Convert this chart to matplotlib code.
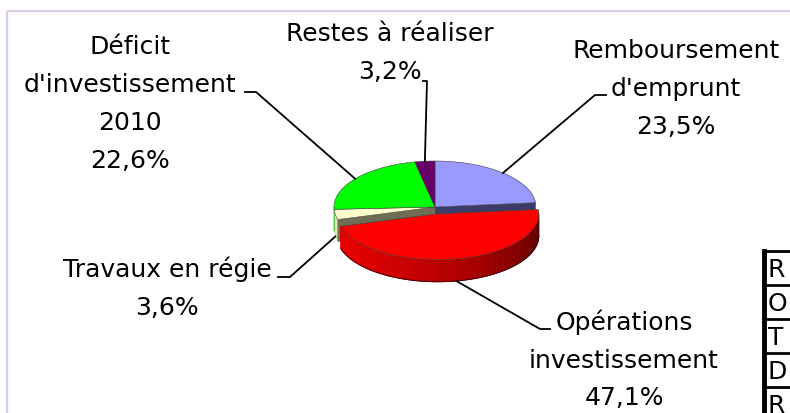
import numpy as np
import matplotlib.pyplot as plt
from matplotlib.patches import Polygon, Rectangle
from matplotlib.colors import to_rgb

# Données du camembert (ordre horaire depuis midi)
labels = ["Remboursement\nd'emprunt", "Opérations\ninvestissement", "Travaux en régie",
          "Déficit\nd'investissement\n2010", "Restes à réaliser"]
values = [23.5, 47.1, 3.6, 22.6, 3.2]
pct_labels = ["23,5%", "47,1%", "3,6%", "22,6%", "3,2%"]
explode = [0, 0.15, 0, 0, 0]
table_letters = ["R", "O", "T", "D", "R"]

top_colors = ["#9999ff", "#ff0000", "#ffffcc", "#00ff00", "#660066"]
side_colors = ["#5c5c9c", "#b00000", "#e2e2b2", "#00b000", "#400040"]
face_colors = ["#3c3c6a", "#700000", "#6e6e54", "#007000", "#330033"]

# mise en page (pixels)
cx, cy = 435, 208
a, b = 101, 46
depth = 22
text_pos = [(676, 89), (624, 360), (167, 288), (130, 104), (390, 53)]
knees = [[(606, 96), (595, 96)], [(550, 330), (540, 330)], [(278, 278), (290, 278)],
         [(245, 93), (256, 93)], [(423, 82), (427, 82)]]
anchor_on_side = [False, True, True, False, False]

fig = plt.figure(figsize=(7.9, 4.14), dpi=100)
ax = fig.add_axes([0, 0, 1, 1])
ax.set_xlim(0, 790)
ax.set_ylim(414, 0)
ax.axis('off')

# cadre violet clair
ax.add_patch(Rectangle((7, 12), 900, 500, fill=False, ec="#dccbe6", lw=1.6))

total = sum(values)
cum = np.concatenate([[0], np.cumsum(values)])
starts = 90 - 360 * cum[:-1] / total
ends = 90 - 360 * cum[1:] / total
mids = (starts + ends) / 2


def center(i):
    e = explode[i]
    m = np.radians(mids[i])
    return (cx + e * a * np.cos(m), cy - e * b * np.sin(m))


def arc(c, t0, t1, dy=0, n=80):
    th = np.radians(np.linspace(t0, t1, n))
    return np.column_stack([c[0] + a * np.cos(th), c[1] - b * np.sin(th) + dy])


def front_parts(t_lo, t_hi):
    parts = []
    for lo, hi in [(-540, -360), (-180, 0), (180, 360)]:
        l, h = max(t_lo, lo), min(t_hi, hi)
        if h > l:
            parts.append((l, h))
    return parts


def draw_side(c, l, h, color, z):
    top = arc(c, l, h)
    bot = arc(c, h, l, dy=depth)
    ax.add_patch(Polygon(np.vstack([top, bot]), closed=True, fc=color, ec=color, lw=0.3, zorder=z))


def draw_side_gradient(c, l, h, z):
    n = 60
    th = np.linspace(l, h, n + 1)
    bright = np.array(to_rgb("#e80000"))
    dark = np.array(to_rgb("#520000"))
    for k in range(n):
        f = (k + 0.5) / n
        col = bright * (1 - f ** 1.5) + dark * f ** 1.5
        top = arc(c, th[k], th[k + 1], n=4)
        bot = arc(c, th[k + 1], th[k], dy=depth, n=4)
        ax.add_patch(Polygon(np.vstack([top, bot]), closed=True, fc=col, ec=col, lw=0.6, zorder=z))
    ax.plot(*arc(c, l, h, dy=depth).T, color="#300000", lw=0.6, zorder=z + 0.1)


def draw_top(c, i, z):
    pts = np.vstack([[c], arc(c, ends[i], starts[i])])
    ax.add_patch(Polygon(pts, closed=True, fc=top_colors[i], ec="#404040", lw=0.4, zorder=z))


back = [i for i in range(len(values)) if explode[i] == 0]
front = [i for i in range(len(values)) if explode[i] > 0]

# partie arrière
for i in back:
    c = center(i)
    for l, h in front_parts(ends[i], starts[i]):
        draw_side(c, l, h, side_colors[i], 1)
for j in front:
    for i, ang in [((j - 1) % len(values), starts[j]), ((j + 1) % len(values), ends[j])]:
        c = center(i)
        p = (c[0] + a * np.cos(np.radians(ang)), c[1] - b * np.sin(np.radians(ang)))
        quad = [c, p, (p[0], p[1] + depth), (c[0], c[1] + depth)]
        ax.add_patch(Polygon(quad, closed=True, fc=face_colors[i], ec=face_colors[i], lw=0.3, zorder=2))
for i in back:
    draw_top(center(i), i, 3)

# part détachée
for j in front:
    c = center(j)
    for l, h in front_parts(ends[j], starts[j]):
        draw_side_gradient(c, l, h, 4)
    draw_top(c, j, 5)

# étiquettes et traits de rappel
for i in range(len(values)):
    c = center(i)
    m = np.radians(mids[i])
    anchor = (c[0] + a * np.cos(m), c[1] - b * np.sin(m) + (depth if anchor_on_side[i] else 0))
    xs = [knees[i][0][0], knees[i][1][0], anchor[0]]
    ys = [knees[i][0][1], knees[i][1][1], anchor[1]]
    ax.plot(xs, ys, color="black", lw=1.3, zorder=6)
    ax.text(text_pos[i][0], text_pos[i][1], labels[i] + "\n" + pct_labels[i],
            ha="center", va="center", fontsize=18, linespacing=1.72,
            family="DejaVu Sans", zorder=7)

# tableau coupé à droite
row_h = 34
tx, ty = 764, 252
for k, letter in enumerate(table_letters):
    y0 = ty + k * row_h
    ax.plot([tx, 800], [y0, y0], color="black", lw=2, zorder=6)
    ax.text(tx + 4, y0 + row_h / 2 + 1, letter, ha="left", va="center", fontsize=18,
            family="DejaVu Sans", zorder=7, clip_on=True)
ax.plot([tx, tx], [ty, 420], color="black", lw=3.5, zorder=6)

plt.savefig("out.png", dpi=100)
